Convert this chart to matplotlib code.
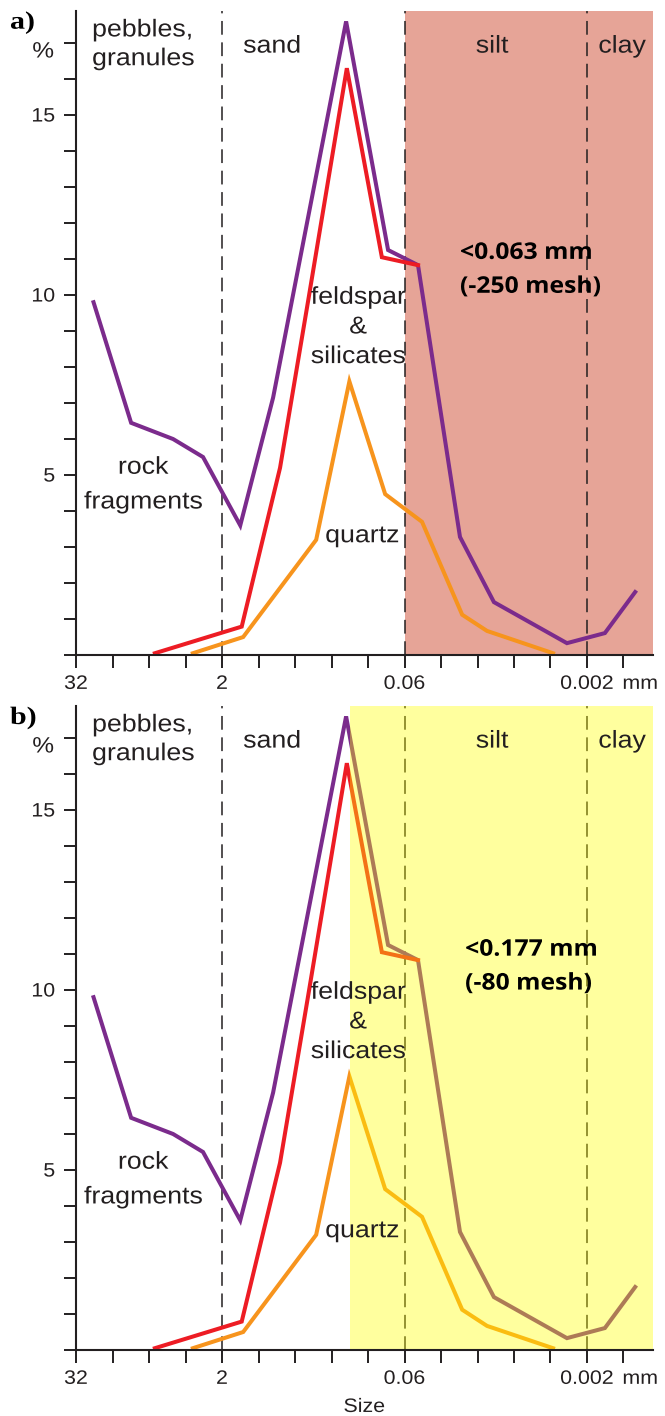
import matplotlib
matplotlib.use('Agg')
import matplotlib.pyplot as plt
from matplotlib.patheffects import AbstractPathEffect
from matplotlib.transforms import Affine2D

# grain size on the phi scale (phi = -log2(size in mm)), percent
purple_x = [-4.52, -3.49, -2.34, -1.52, -0.5, 0.4, 2.4, 3.55, 4.37, 5.52, 6.45, 8.45, 9.49, 10.32]
purple_y = [9.8, 6.45, 6.0, 5.5, 3.6, 7.15, 17.6, 11.25, 10.83, 3.28, 1.47, 0.33, 0.61, 1.75]
red_x = [-2.84, -0.46, 0.59, 1.37, 2.42, 3.38, 4.37]
red_y = [0.05, 0.79, 5.2, 9.9, 16.3, 11.05, 10.83]
orange_x = [-1.8, -0.42, 1.58, 2.49, 3.47, 4.48, 5.58, 6.26, 8.07]
orange_y = [0.05, 0.5, 3.2, 7.6, 4.47, 3.7, 1.12, 0.67, 0.05]

tick_phi = list(range(-5, 11))
tick_text = {-5: '32', -1: '2', 4: '0.06', 9: '0.002'}
y_ticks = list(range(0, 18))
y_text = {5: '5', 10: '10', 15: '15'}
class_bounds = [-1, 4, 9]

ink = '#231f20'
purple = '#7b2b8c'
red = '#ed1c24'
orange = '#f7941d'
pink = '#e6a497'

plt.rcParams['font.family'] = 'Liberation Sans'


class Widen(AbstractPathEffect):
    # the source art has slightly stretched lettering
    def __init__(self, sx=1.1, anchor='center'):
        super().__init__()
        self.sx = sx
        self.anchor = anchor

    def draw_path(self, renderer, gc, tpath, affine, rgbFace=None):
        ext = tpath.get_extents()
        x0 = {'left': 0.0, 'center': (ext.x0 + ext.x1) / 2, 'right': ext.x1}[self.anchor]
        t = Affine2D().translate(-x0, 0).scale(self.sx, 1).translate(x0, 0)
        renderer.draw_path(gc, tpath, t + affine, rgbFace)


def wide(anchor='center', sx=1.1):
    return [Widen(sx, anchor)]


fig = plt.figure(figsize=(6.65, 14.16), dpi=100)
ax_a = fig.add_axes([0.1143, 0.5374, 0.8672, 0.4551])
ax_b = fig.add_axes([0.1143, 0.0466, 0.8672, 0.4551])

for ax in [ax_a, ax_b]:
    ax.set_xlim(-5, 10.8)
    ax.set_ylim(0, 17.9)
    ax.spines['top'].set_visible(False)
    ax.spines['right'].set_visible(False)
    for s in ['left', 'bottom']:
        ax.spines[s].set_linewidth(1.5)
        ax.spines[s].set_color(ink)
        ax.spines[s].set_zorder(5)
    ax.set_xticks(tick_phi)
    ax.set_xticklabels([tick_text.get(p, '') for p in tick_phi])
    ax.set_yticks(y_ticks)
    ax.set_yticklabels([y_text.get(v, '') for v in y_ticks])
    ax.tick_params(length=9, width=1.4, color=ink, pad=6, labelsize=14, labelcolor=ink)
    for lab in ax.get_xticklabels():
        lab.set_path_effects(wide('center'))
    for lab in ax.get_yticklabels():
        lab.set_path_effects(wide('right'))

    for b in class_bounds:
        ax.axvline(b, color=ink, lw=1.1, ls=(0, (9, 5)), zorder=1)

    ax.plot(purple_x, purple_y, color=purple, lw=2.9, zorder=2, solid_joinstyle='miter')
    ax.plot(red_x, red_y, color=red, lw=2.9, zorder=2, solid_joinstyle='miter')
    ax.plot(orange_x, orange_y, color=orange, lw=2.9, zorder=2, solid_joinstyle='miter')

    ax.text(-5.9, 16.75, '%', fontsize=16, color=ink, ha='center', va='center',
            clip_on=False, path_effects=wide('center'))
    ax.text(-4.56, 16.95, 'pebbles,\ngranules', fontsize=17.5, color=ink, ha='left',
            va='center', linespacing=1.4, zorder=4, path_effects=wide('left'))
    ax.text(0.37, 16.9, 'sand', fontsize=17.5, color=ink, ha='center', va='center',
            zorder=4, path_effects=wide('center'))
    ax.text(6.4, 16.9, 'silt', fontsize=17.5, color=ink, ha='center', va='center',
            zorder=4, path_effects=wide('center'))
    ax.text(9.96, 16.9, 'clay', fontsize=17.5, color=ink, ha='center', va='center',
            zorder=4, path_effects=wide('center'))
    ax.text(-3.16, 4.72, 'rock\nfragments', fontsize=17.5, color=ink, ha='center',
            va='center', linespacing=1.75, zorder=4, path_effects=wide('center'))
    ax.text(2.73, 9.1, 'feldspar\n&\nsilicates', fontsize=17.5, color=ink, ha='center',
            va='center', linespacing=1.45, zorder=4, path_effects=wide('center'))
    ax.text(2.84, 3.3, 'quartz', fontsize=17.5, color=ink, ha='center', va='center',
            zorder=4, path_effects=wide('center'))
    ax.annotate('mm', xy=(9.97, 0), xycoords='data', xytext=(0, -15),
                textcoords='offset points', ha='left', va='top', fontsize=14,
                color=ink, annotation_clip=False, path_effects=wide('left'))

# a) fine fraction below 250 mesh
ax_a.axvspan(4, 10.8, color=pink, lw=0, zorder=0.5)
ax_a.text(5.52, 10.7, '<0.063 mm\n(-250 mesh)', fontsize=16.5, fontweight='bold',
          family='Open Sans', color='black', ha='left', va='center', linespacing=1.55,
          zorder=4, path_effects=wide('left', 1.08))

# b) fine fraction below 80 mesh, tinted over the curves
ax_b.axvspan(2.5, 10.8, color='#ffff00', alpha=0.38, lw=0, zorder=2.5)
ax_b.text(5.66, 10.65, '<0.177 mm\n(-80 mesh)', fontsize=16.5, fontweight='bold',
          family='Open Sans', color='black', ha='left', va='center', linespacing=1.55,
          zorder=4, path_effects=wide('left', 1.08))
ax_b.set_xlabel('Size', fontsize=14, color=ink, labelpad=8)
ax_b.xaxis.label.set_path_effects(wide('center'))

fig.text(10 / 665, 1 - 11 / 1416, 'a)', fontsize=18, fontweight='bold',
         family='Liberation Serif', ha='left', va='top', path_effects=wide('left', 1.2))
fig.text(10 / 665, 1 - 706 / 1416, 'b)', fontsize=18, fontweight='bold',
         family='Liberation Serif', ha='left', va='top', path_effects=wide('left', 1.2))

fig.savefig('out.png', dpi=100)
